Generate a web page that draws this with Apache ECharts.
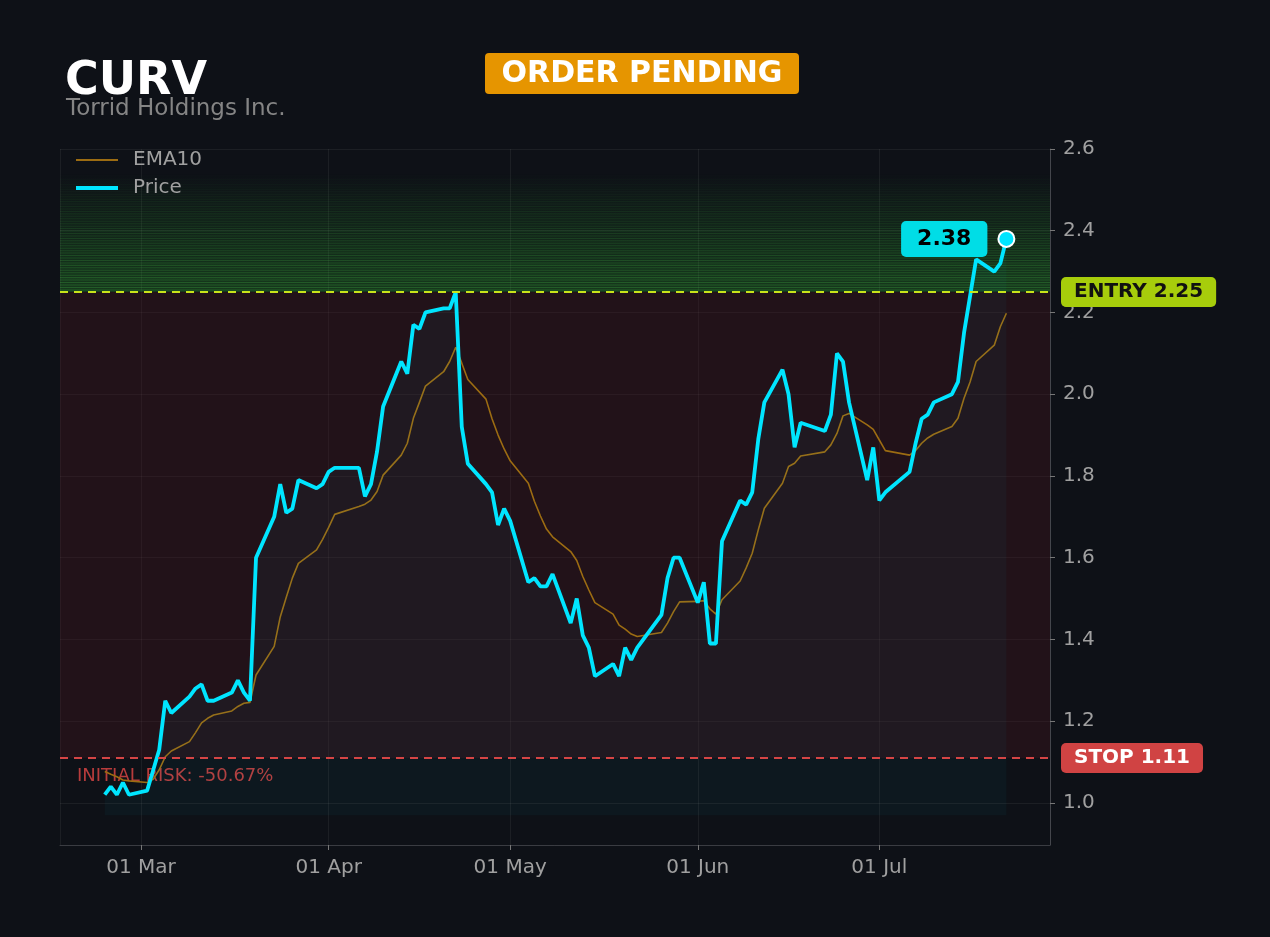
<!DOCTYPE html>
<html>
<head>
<meta charset="utf-8">
<style>
  html, body { margin: 0; padding: 0; background: #0e1117; }
  #chart { width: 1270px; height: 937px; }
</style>
</head>
<body>
<div id="chart"></div>
<script src="https://cdn.jsdelivr.net/npm/echarts@6/dist/echarts.min.js"></script>
<script type="text/javascript">
// trading days
var dates = [
  '2026-02-23','2026-02-24','2026-02-25','2026-02-26','2026-02-27',
  '2026-03-02','2026-03-03','2026-03-04','2026-03-05','2026-03-06',
  '2026-03-09','2026-03-10','2026-03-11','2026-03-12','2026-03-13',
  '2026-03-16','2026-03-17','2026-03-18','2026-03-19','2026-03-20',
  '2026-03-23','2026-03-24','2026-03-25','2026-03-26','2026-03-27',
  '2026-03-30','2026-03-31','2026-04-01','2026-04-02',
  '2026-04-06','2026-04-07','2026-04-08','2026-04-09','2026-04-10',
  '2026-04-13','2026-04-14','2026-04-15','2026-04-16','2026-04-17',
  '2026-04-20','2026-04-21','2026-04-22','2026-04-23','2026-04-24',
  '2026-04-27','2026-04-28','2026-04-29','2026-04-30','2026-05-01',
  '2026-05-04','2026-05-05','2026-05-06','2026-05-07','2026-05-08',
  '2026-05-11','2026-05-12','2026-05-13','2026-05-14','2026-05-15',
  '2026-05-18','2026-05-19','2026-05-20','2026-05-21','2026-05-22',
  '2026-05-26','2026-05-27','2026-05-28','2026-05-29',
  '2026-06-01','2026-06-02','2026-06-03','2026-06-04','2026-06-05',
  '2026-06-08','2026-06-09','2026-06-10','2026-06-11','2026-06-12',
  '2026-06-15','2026-06-16','2026-06-17','2026-06-18',
  '2026-06-22','2026-06-23','2026-06-24','2026-06-25','2026-06-26',
  '2026-06-29','2026-06-30','2026-07-01','2026-07-02',
  '2026-07-06','2026-07-07','2026-07-08','2026-07-09','2026-07-10',
  '2026-07-13','2026-07-14','2026-07-15','2026-07-16','2026-07-17',
  '2026-07-20','2026-07-21','2026-07-22'
];

var price = [
  1.02,1.04,1.02,1.05,1.02,
  1.03,1.08,1.13,1.25,1.22,
  1.26,1.28,1.29,1.25,1.25,
  1.27,1.30,1.27,1.25,1.60,
  1.70,1.78,1.71,1.72,1.79,
  1.77,1.78,1.81,1.82,
  1.82,1.75,1.78,1.86,1.97,
  2.08,2.05,2.17,2.16,2.20,
  2.21,2.21,2.25,1.92,1.83,
  1.78,1.76,1.68,1.72,1.69,
  1.54,1.55,1.53,1.53,1.56,
  1.44,1.50,1.41,1.38,1.31,
  1.34,1.31,1.38,1.35,1.38,
  1.46,1.55,1.60,1.60,
  1.49,1.54,1.39,1.39,1.64,
  1.74,1.73,1.76,1.89,1.98,
  2.06,2.00,1.87,1.93,
  1.91,1.95,2.10,2.08,1.98,
  1.79,1.87,1.74,1.76,
  1.81,1.88,1.94,1.95,1.98,
  2.00,2.03,2.15,2.24,2.33,
  2.30,2.32,2.38
];

var ema10 = [
  1.077,1.070,1.064,1.056,1.054,
  1.050,1.058,1.081,1.113,1.127,
  1.150,1.172,1.196,1.207,1.215,
  1.225,1.236,1.244,1.246,1.313,
  1.383,1.455,1.503,1.550,1.586,
  1.619,1.645,1.674,1.706,
  1.725,1.731,1.741,1.762,1.802,
  1.851,1.880,1.941,1.980,2.020,
  2.055,2.080,2.115,2.076,2.036,
  1.988,1.940,1.900,1.866,1.837,
  1.782,1.738,1.702,1.670,1.651,
  1.615,1.593,1.554,1.521,1.490,
  1.462,1.435,1.425,1.413,1.407,
  1.417,1.440,1.468,1.492,
  1.493,1.495,1.475,1.462,1.497,
  1.543,1.575,1.611,1.668,1.721,
  1.782,1.823,1.831,1.849,
  1.859,1.876,1.904,1.947,1.953,
  1.925,1.914,1.888,1.862,
  1.851,1.862,1.880,1.893,1.902,
  1.921,1.941,1.990,2.030,2.080,
  2.120,2.165,2.198
];

var entry = 2.25;
var stop = 1.11;
var risk = '-50.67%';

var chart = echarts.init(document.getElementById('chart'));

var priceData = [], emaData = [];
for (var i = 0; i < dates.length; i++) {
  priceData.push([dates[i], price[i]]);
  emaData.push([dates[i], ema10[i]]);
}
var last = priceData[priceData.length - 1];

// risk zone between stop and entry, green target zone above entry (striped, fading upward)
var zones = [
  [{ yAxis: stop, itemStyle: { color: 'rgba(75,20,30,0.33)' } }, { yAxis: entry }],
  [{ yAxis: entry, itemStyle: { color: new echarts.graphic.LinearGradient(0, 0, 0, 1, [
      { offset: 0, color: 'rgba(40,160,40,0)' },
      { offset: 1, color: 'rgba(40,160,40,0.28)' }
    ]) } }, { yAxis: 2.54 }]
];
var nStripes = 48;
for (var k = 0; k < nStripes; k++) {
  var y0 = entry + 0.004 + k * 0.006;
  zones.push([
    { yAxis: y0, itemStyle: { color: 'rgba(70,185,70,' + (0.3 * (1 - k / nStripes)).toFixed(3) + ')' } },
    { yAxis: y0 + 0.0025 }
  ]);
}

var FONT = 'DejaVu Sans';

var option = {
  backgroundColor: '#0e1117',
  animation: false,
  textStyle: { fontFamily: FONT },
  grid: { left: 60, right: 220, top: 149, bottom: 92 },
  legend: {
    data: [
      { name: 'EMA10', lineStyle: { width: 2 } },
      { name: 'Price', lineStyle: { width: 4 } }
    ],
    orient: 'vertical',
    left: 69,
    top: 145,
    itemWidth: 42,
    itemHeight: 14,
    itemGap: 8,
    itemStyle: { opacity: 0 },
    textStyle: { color: '#a0a0a0', fontSize: 20, fontFamily: FONT, padding: [0, 0, 0, 10] }
  },
  xAxis: {
    type: 'time',
    min: '2026-02-15 14:30',
    max: '2026-07-29 05:00',
    splitNumber: 5,
    minInterval: 28 * 86400000,
    axisLine: { lineStyle: { color: '#3a3c42' } },
    axisTick: { show: true, length: 5, lineStyle: { color: '#777' } },
    axisLabel: { color: '#a0a0a0', fontSize: 20, margin: 13, formatter: '{dd} {MMM}', fontFamily: FONT },
    splitLine: { show: true, lineStyle: { color: 'rgba(255,255,255,0.06)' } }
  },
  yAxis: {
    type: 'value',
    position: 'right',
    min: 0.897,
    max: 2.6,
    splitNumber: 8,
    axisLine: { show: true, lineStyle: { color: '#44464c' } },
    axisTick: { show: true, length: 5, lineStyle: { color: '#777' } },
    axisLabel: {
      color: '#a0a0a0', fontSize: 20, margin: 13, showMinLabel: false, fontFamily: FONT,
      formatter: function (v) { return v.toFixed(1); }
    },
    splitLine: { show: true, lineStyle: { color: 'rgba(255,255,255,0.06)' } }
  },
  series: [
    {
      name: 'EMA10',
      type: 'line',
      data: emaData,
      showSymbol: false,
      symbol: 'none',
      lineStyle: { color: '#9c6c12', width: 1.6 },
      itemStyle: { color: '#9c6c12' },
      z: 2,
      markArea: { silent: true, data: zones, z: 1 }
    },
    {
      name: 'Price',
      type: 'line',
      data: priceData,
      showSymbol: false,
      symbol: 'none',
      lineStyle: { color: '#00e5ff', width: 3.8 },
      itemStyle: { color: '#00e5ff' },
      areaStyle: { origin: 0.97, color: 'rgba(0,229,255,0.05)' },
      z: 3,
      markLine: {
        silent: true,
        symbol: 'none',
        data: [
          {
            yAxis: entry,
            lineStyle: { color: '#c8e31a', type: [8, 6], width: 2 },
            label: {
              show: true, position: 'end', distance: 11,
              formatter: 'ENTRY ' + entry.toFixed(2),
              backgroundColor: '#a7cd0b', color: '#111', fontWeight: 'bold', fontSize: 20,
              padding: [5, 13], borderRadius: 5, fontFamily: FONT
            }
          },
          {
            yAxis: stop,
            lineStyle: { color: '#d64545', type: [8, 6], width: 2 },
            label: {
              show: true, position: 'end', distance: 11,
              formatter: 'STOP ' + stop.toFixed(2),
              backgroundColor: '#d04343', color: '#fff', fontWeight: 'bold', fontSize: 20,
              padding: [5, 13], borderRadius: 5, fontFamily: FONT
            }
          }
        ]
      }
    },
    {
      name: 'last',
      type: 'scatter',
      data: [last],
      symbolSize: 16,
      itemStyle: { color: '#00e5ff', borderColor: '#ffffff', borderWidth: 2, opacity: 1 },
      z: 5,
      label: {
        show: true, position: 'left', distance: 10,
        formatter: function (p) { return p.value[1].toFixed(2); },
        backgroundColor: '#00dde6', color: '#000', fontWeight: 'bold', fontSize: 22,
        padding: [7, 16], borderRadius: 5, fontFamily: FONT, opacity: 1
      }
    }
  ],
  graphic: [
    { type: 'text', left: 65, top: 59, style: { text: 'CURV', fill: '#ffffff', font: 'bold 46px "DejaVu Sans"' } },
    { type: 'text', left: 66, top: 98, style: { text: 'Torrid Holdings Inc.', fill: '#858585', font: '23px "DejaVu Sans"' } },
    { type: 'rect', left: 485, top: 53, shape: { width: 314, height: 41, r: 4 }, style: { fill: '#e69500' } },
    { type: 'text', x: 642, y: 74, style: { text: 'ORDER PENDING', fill: '#ffffff', font: 'bold 30px "DejaVu Sans"', textAlign: 'center', textVerticalAlign: 'middle' } },
    { type: 'text', left: 77, top: 767, style: { text: 'INITIAL RISK: ' + risk, fill: '#b83c3c', font: '18px "DejaVu Sans"' } }
  ]
};

chart.setOption(option);
</script>
</body>
</html>
